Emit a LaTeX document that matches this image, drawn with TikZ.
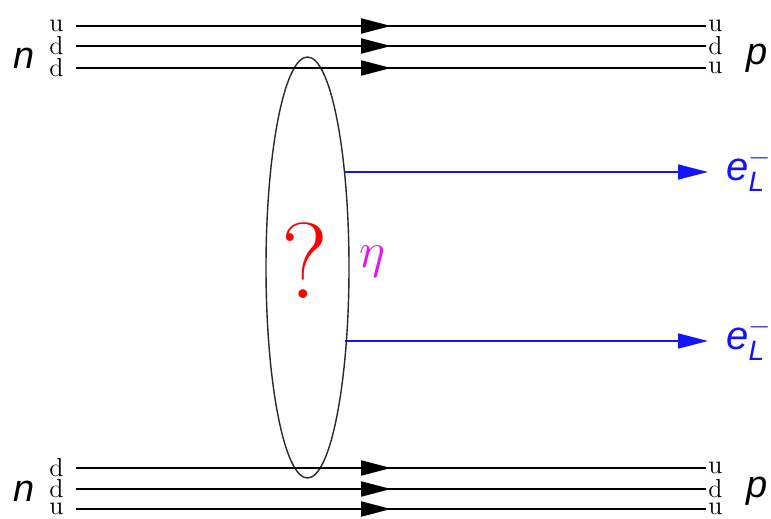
\documentclass[tikz,border=0pt]{standalone}
\usepackage{fontspec}
\usepackage{xcolor}
\usepackage{tikz}
\usetikzlibrary{shapes.geometric,arrows.meta,decorations.markings}
\newfontfamily\labelsf{Liberation Sans}
\definecolor{leptonBlue}{RGB}{20,20,245}
\definecolor{etaMagenta}{RGB}{230,20,230}
\definecolor{blobGray}{RGB}{40,40,40}

\begin{document}
\begin{tikzpicture}[
    x=0.5pt, y=-0.5pt,
    quarkL/.style={anchor=east, inner xsep=6pt, inner ysep=0pt, font=\fontsize{13}{13}\selectfont},
    quarkR/.style={anchor=west, inner xsep=1pt, inner ysep=0pt, font=\fontsize{13}{13}\selectfont},
    hadron/.style={font=\fontsize{19}{20}\selectfont\labelsf\itshape},
    lepton/.style={anchor=west, inner xsep=9pt, inner ysep=0pt, text=leptonBlue, font=\fontsize{20}{21}\selectfont\labelsf\itshape},
    quarkLine/.style={line width=1pt, draw=black,
        decoration={markings, mark=at position 0.5 with {\arrow{Triangle[length=15pt,width=7.5pt]}}},
        postaction={decorate}},
    leptonLine/.style={-{Triangle[length=15pt,width=7.5pt]}, line width=0.8pt, draw=leptonBlue}
]
\useasboundingbox (0,0) rectangle (771,519);

% Nodes
\node (nTop) [hadron] at (24,58) {n};
\node (pTop) [hadron] at (757,58) {p};
\node (nBot) [hadron] at (24,491) {n};
\node (pBot) [hadron] at (757,491) {p};

\node (tl1) [quarkL] at (76,26) {u};
\node (tl2) [quarkL] at (76,46) {d};
\node (tl3) [quarkL] at (76,68) {d};
\node (tr1) [quarkR] at (706,26) {u};
\node (tr2) [quarkR] at (706,46) {d};
\node (tr3) [quarkR] at (706,68) {u};

\node (bl1) [quarkL] at (76,468) {d};
\node (bl2) [quarkL] at (76,489) {d};
\node (bl3) [quarkL] at (76,509) {u};
\node (br1) [quarkR] at (706,468) {u};
\node (br2) [quarkR] at (706,489) {d};
\node (br3) [quarkR] at (706,509) {u};

\node (blob) [ellipse, draw=blobGray, line width=0.7pt, minimum width=41.5pt, minimum height=210.5pt, inner sep=0pt] at (307.5,267.5) {};
\node (qmark) [text=red, font=\fontsize{54}{56}\selectfont] at (305,261) {?};
\node (eta) [text=etaMagenta, font=\fontsize{24}{24}\selectfont] at (372,262) {$\eta$};

\coordinate (b1) at (345,172);
\coordinate (b2) at (345,341);
\node (e1) [lepton] at (708,170) {e$^{-}_{\mbox{\fontsize{14}{14}\selectfont\labelsf\itshape L}}$};
\node (e2) [lepton] at (708,339) {e$^{-}_{\mbox{\fontsize{14}{14}\selectfont\labelsf\itshape L}}$};

% Connectors
\draw [quarkLine] (tl1.east) -- (tr1.west);
\draw [quarkLine] (tl2.east) -- (tr2.west);
\draw [quarkLine] (tl3.east) -- (tr3.west);
\draw [quarkLine] (bl1.east) -- (br1.west);
\draw [quarkLine] (bl2.east) -- (br2.west);
\draw [quarkLine] (bl3.east) -- (br3.west);

\draw [leptonLine] (b1) -- (b1 -| e1.west);
\draw [leptonLine] (b2) -- (b2 -| e2.west);

\end{tikzpicture}
\end{document}
